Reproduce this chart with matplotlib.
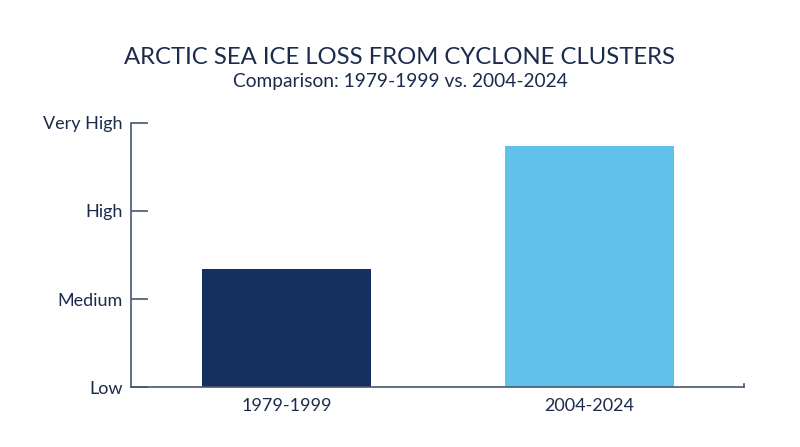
import matplotlib
matplotlib.use("Agg")
import matplotlib.pyplot as plt

periods = ["1979-1999", "2004-2024"]
ice_loss = [1.34, 2.74]
level_labels = ["Low", "Medium", "High", "Very High"]
level_values = [0, 1, 2, 3]
bar_colors = ["#15305e", "#62c1ea"]

text_color = "#1b2b4b"
axis_color = "#4a5870"

plt.rcParams['font.family'] = ['Lato', 'DejaVu Sans']

fig = plt.figure(figsize=(8, 4.47), dpi=100)
ax = fig.add_axes([0.164, 0.134, 0.766, 0.591])

x = list(range(len(periods)))
ax.bar(x, ice_loss, width=0.56, color=bar_colors)

ax.set_xlim(-0.513, 1.51)
ax.set_ylim(0, 3)
ax.set_yticks(level_values)
ax.set_yticklabels(level_labels)
ax.set_xticks(x)
ax.set_xticklabels(periods)

ax.spines['top'].set_visible(False)
ax.spines['right'].set_visible(False)
for s in ['left', 'bottom']:
    ax.spines[s].set_color(axis_color)
    ax.spines[s].set_linewidth(1.2)

ax.tick_params(axis='y', direction='in', length=12, width=1.2, color=axis_color,
               labelsize=13, labelcolor=text_color, pad=6)
ax.tick_params(axis='x', length=0, labelsize=13, labelcolor=text_color, pad=8)
# small end tick on the x axis
ax.plot([1.51, 1.51], [0, 0.04], color=axis_color, lw=1.2, clip_on=False)

fig.text(0.5, 0.872, "ARCTIC SEA ICE LOSS FROM CYCLONE CLUSTERS", ha='center', va='center',
         fontsize=17.2, color=text_color)
fig.text(0.5, 0.817, "Comparison: 1979-1999 vs. 2004-2024", ha='center', va='center',
         fontsize=13.8, color=text_color)

fig.savefig("out.png", dpi=100, facecolor="white")
